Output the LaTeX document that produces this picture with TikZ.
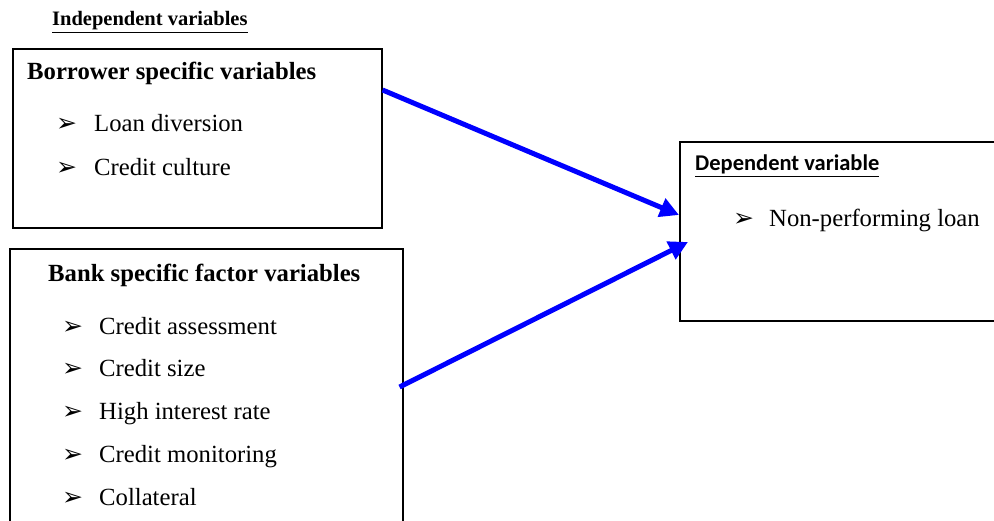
\documentclass[tikz,border=0pt]{standalone}
\usepackage{fontspec}
\setmainfont{Liberation Serif}[BoldFont={Liberation Serif Bold}]
\newfontfamily\calfont{Carlito}
\newfontfamily\glyphfont{DejaVu Sans}
\usepackage{tikz}
\usetikzlibrary{positioning, arrows.meta, calc}
\definecolor{linkBlue}{HTML}{0000FF}
\tikzset{
  panel/.style={draw=black, line width=1.6pt, anchor=north west, inner sep=0pt},
  heading/.style={anchor=base west, inner sep=0pt, font=\fontsize{24.7}{29}\selectfont\bfseries},
  itemtext/.style={anchor=base west, inner sep=0pt, font=\fontsize{24.7}{29}\selectfont},
  itemmark/.style={anchor=base west, inner sep=0pt, font=\glyphfont\fontsize{25}{29}\selectfont},
  link/.style={draw=linkBlue, line width=5pt, -{Triangle[length=19pt,width=19pt]}},
}

\begin{document}
\begin{tikzpicture}[x=1pt, y=-1pt]
  \useasboundingbox (0,0) rectangle (994,521);
  \clip (0,0) rectangle (994,521);

  % panels
  \node[panel, minimum width=369pt, minimum height=179pt] (borrower) at (12,48) {};
  \node[panel, minimum width=393pt, minimum height=300pt] (bank) at (9,248) {};
  \node[panel, minimum width=340pt, minimum height=179pt] (dependent) at (679,141) {};

  % headings
  \node[heading, font=\fontsize{20.5}{24}\selectfont\bfseries] (indepTitle) at (52,26) {\underline{Independent variables}};
  \node[heading] (borrowerTitle) at (27,80) {Borrower specific variables};
  \node[heading] (bankTitle) at (48,282) {Bank specific factor variables};
  \node[heading, font=\calfont\fontsize{22.5}{27}\selectfont\bfseries] (depTitle) at (695,171) {\underline{Dependent variable}};

  % items
  \foreach \name/\yy/\txt in {loanDiv/132/Loan diversion, culture/176/Credit culture}{
    \node[itemmark] (\name Mark) at (56,\yy) {➢};
    \node[itemtext] (\name) at (94,\yy) {\txt};
  }
  \foreach \name/\yy/\txt in {assess/335/Credit assessment, size/377/Credit size,
                              rate/420/High interest rate, monitor/462/Credit monitoring,
                              collat/505/Collateral}{
    \node[itemmark] (\name Mark) at (62,\yy) {➢};
    \node[itemtext] (\name) at (99,\yy) {\txt};
  }
  \node[itemmark] (nplMark) at (733,227) {➢};
  \node[itemtext] (npl) at (769,227) {Non-performing loan};

  % links
  \coordinate (b1) at ($(borrower.north east)+(0,42)$);
  \coordinate (b2) at ($(bank.north east)+(-4,139)$);
  \coordinate (d1) at ($(dependent.north west)+(0,74)$);
  \coordinate (d2) at ($(dependent.north west)+(9,101)$);
  \draw[link] (b1) -- (d1);
  \draw[link] (b2) -- (d2);
\end{tikzpicture}
\end{document}
